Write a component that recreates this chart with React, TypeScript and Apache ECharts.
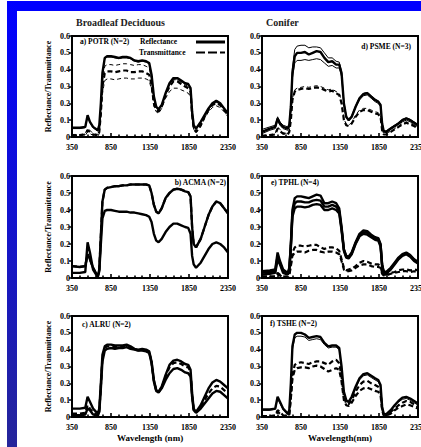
import React, { useEffect, useRef } from "react";
import * as echarts from "echarts";

// Wavelength grid (nm)
const WL = [350,450,520,550,580,620,680,700,720,740,770,800,850,900,950,1000,1050,1100,1150,1200,1250,1300,1340,1370,1400,1430,1460,1500,1550,1600,1650,1700,1750,1800,1840,1870,1890,1910,1940,2000,2050,2100,2150,2200,2250,2300,2350];

const xTicks = [350, 850, 1350, 1850, 2350];
const yTicks = [0, 0.1, 0.2, 0.3, 0.4, 0.5, 0.6];

// a) POTR
const potrRefl = [.055,.055,.06,.13,.09,.06,.04,.07,.2,.38,.47,.48,.48,.475,.47,.475,.475,.47,.455,.45,.455,.45,.44,.37,.24,.18,.165,.19,.26,.32,.35,.35,.335,.32,.315,.29,.15,.07,.05,.09,.13,.17,.2,.215,.2,.17,.14];
const potrRefl2 = [.05,.05,.055,.12,.085,.055,.035,.065,.19,.37,.465,.475,.475,.47,.465,.47,.47,.465,.45,.445,.45,.445,.435,.36,.23,.175,.16,.185,.255,.315,.345,.345,.33,.315,.31,.285,.145,.065,.045,.085,.125,.165,.195,.21,.195,.165,.135];
const potrTrans = [.01,.01,.015,.04,.03,.015,.01,.03,.14,.3,.38,.39,.39,.385,.39,.395,.395,.385,.385,.39,.39,.38,.37,.31,.2,.16,.15,.18,.25,.3,.33,.33,.315,.3,.29,.27,.13,.05,.03,.07,.12,.16,.19,.2,.19,.16,.13];
const potrTransHi = [.015,.015,.02,.05,.04,.02,.015,.04,.16,.33,.42,.43,.43,.425,.43,.435,.435,.43,.425,.43,.43,.42,.41,.34,.21,.165,.155,.185,.26,.31,.34,.34,.325,.31,.3,.28,.14,.055,.035,.08,.125,.165,.195,.205,.195,.165,.135];
const potrTransLo = [.005,.005,.01,.03,.02,.01,.005,.02,.12,.26,.335,.345,.345,.34,.345,.35,.35,.345,.345,.35,.35,.345,.335,.28,.18,.15,.14,.17,.23,.27,.29,.29,.28,.27,.26,.24,.12,.045,.025,.06,.11,.15,.175,.185,.175,.15,.12];

// b) ACMA
const acmaUpper = [.07,.065,.07,.14,.11,.06,.01,.05,.25,.45,.52,.53,.535,.54,.54,.545,.545,.55,.55,.55,.55,.55,.545,.5,.43,.39,.38,.41,.47,.5,.52,.525,.52,.51,.505,.48,.3,.2,.18,.23,.3,.37,.42,.45,.44,.41,.38];
const acmaLower = [.03,.03,.035,.21,.15,.05,.005,.04,.2,.35,.395,.4,.4,.395,.39,.39,.39,.385,.385,.38,.375,.37,.36,.33,.26,.22,.21,.23,.27,.3,.32,.32,.31,.3,.295,.26,.13,.08,.06,.09,.13,.17,.2,.21,.2,.18,.15];

// c) ALRU
const alruUpper = [.05,.05,.055,.12,.09,.05,.02,.05,.2,.37,.42,.43,.43,.425,.425,.425,.43,.42,.405,.4,.405,.4,.39,.33,.22,.16,.15,.18,.25,.31,.335,.34,.33,.315,.31,.28,.14,.05,.03,.07,.12,.17,.205,.22,.21,.19,.17];
const alruMid = [.02,.02,.025,.07,.05,.025,.01,.035,.18,.35,.41,.42,.42,.415,.42,.42,.425,.415,.4,.395,.4,.395,.385,.325,.215,.155,.148,.175,.24,.295,.32,.325,.315,.3,.295,.27,.13,.045,.028,.06,.1,.14,.17,.185,.18,.16,.14];
const alruLower = [.01,.01,.015,.05,.04,.015,.005,.03,.17,.33,.395,.405,.41,.405,.41,.41,.415,.405,.4,.395,.395,.39,.38,.32,.21,.155,.145,.17,.22,.26,.285,.29,.28,.265,.26,.24,.12,.04,.025,.05,.08,.11,.14,.155,.15,.13,.11];

// d) PSME
const psmeRefl = [.03,.05,.06,.11,.08,.06,.05,.07,.18,.38,.48,.5,.5,.505,.49,.5,.51,.505,.47,.445,.45,.43,.43,.38,.2,.12,.1,.12,.18,.23,.255,.26,.24,.22,.21,.19,.08,.035,.03,.05,.065,.08,.1,.11,.1,.085,.07];
const psmeReflHi = [.045,.06,.07,.12,.09,.07,.06,.08,.2,.41,.52,.54,.545,.545,.53,.535,.535,.53,.5,.47,.47,.45,.445,.39,.21,.125,.105,.125,.185,.235,.26,.265,.245,.225,.215,.195,.085,.04,.035,.055,.07,.085,.105,.115,.105,.09,.075];
const psmeReflLo = [.02,.04,.05,.1,.07,.05,.04,.06,.16,.35,.44,.455,.455,.46,.455,.46,.465,.46,.44,.42,.425,.41,.41,.36,.19,.115,.095,.115,.175,.22,.245,.25,.23,.21,.2,.18,.075,.03,.025,.045,.06,.075,.09,.1,.09,.075,.06];
const psmeTrans = [.005,.01,.015,.05,.035,.02,.015,.03,.1,.22,.27,.28,.285,.29,.285,.29,.295,.29,.28,.27,.275,.26,.25,.2,.1,.07,.065,.08,.12,.15,.16,.16,.15,.14,.135,.12,.04,.015,.015,.03,.045,.06,.075,.085,.075,.065,.05];
const psmeTransHi = [.01,.015,.02,.06,.045,.025,.02,.035,.11,.23,.28,.29,.295,.3,.295,.3,.305,.3,.29,.28,.285,.27,.26,.21,.11,.075,.07,.085,.13,.16,.17,.17,.16,.15,.145,.13,.045,.02,.02,.035,.05,.065,.08,.09,.08,.07,.055];

// e) TPHL
const tphlRefl1 = [.04,.045,.05,.15,.1,.05,.03,.06,.2,.4,.47,.48,.48,.475,.47,.48,.49,.485,.44,.44,.45,.44,.41,.3,.17,.13,.125,.15,.21,.26,.28,.275,.255,.24,.235,.2,.08,.04,.035,.06,.09,.12,.14,.15,.135,.11,.095];
const tphlRefl2 = [.03,.035,.04,.13,.09,.04,.025,.05,.19,.38,.44,.45,.45,.445,.445,.455,.46,.455,.42,.42,.43,.42,.395,.29,.165,.125,.12,.145,.205,.25,.27,.265,.25,.235,.23,.195,.075,.035,.03,.055,.085,.115,.135,.145,.13,.105,.09];
const tphlRefl3 = [.02,.025,.03,.11,.08,.03,.02,.04,.18,.36,.41,.42,.42,.415,.42,.43,.435,.43,.4,.4,.41,.4,.38,.28,.16,.12,.115,.14,.2,.245,.26,.255,.24,.225,.22,.185,.07,.03,.025,.05,.08,.11,.13,.14,.125,.1,.085];
const tphlTrans1 = [.01,.01,.01,.03,.02,.01,.005,.02,.08,.15,.18,.19,.19,.185,.19,.195,.195,.18,.17,.18,.18,.175,.16,.11,.06,.045,.05,.055,.07,.09,.1,.095,.085,.08,.08,.07,.03,.02,.02,.03,.035,.045,.05,.05,.045,.05,.045];
const tphlTrans2 = [.005,.005,.005,.02,.015,.005,.003,.015,.07,.13,.15,.155,.155,.15,.16,.165,.165,.155,.15,.155,.155,.15,.14,.1,.05,.04,.04,.045,.06,.075,.08,.08,.07,.065,.065,.06,.025,.015,.015,.025,.03,.035,.04,.04,.035,.04,.035];

// f) TSHE
const tsheRefl1 = [.045,.045,.05,.12,.09,.05,.02,.04,.2,.42,.49,.5,.5,.49,.47,.475,.48,.475,.44,.42,.425,.425,.41,.3,.15,.1,.09,.12,.18,.23,.255,.26,.245,.23,.22,.19,.06,.02,.015,.04,.07,.095,.115,.12,.11,.095,.08];
const tsheRefl2 = [.04,.04,.045,.11,.08,.045,.015,.035,.19,.4,.47,.48,.48,.475,.455,.46,.465,.46,.43,.41,.415,.415,.4,.29,.14,.095,.085,.115,.17,.22,.245,.25,.235,.22,.21,.18,.055,.018,.012,.035,.065,.09,.105,.11,.1,.085,.07];
const tsheTrans1 = [.005,.005,.01,.04,.03,.01,.005,.02,.12,.25,.31,.32,.325,.32,.315,.325,.33,.33,.32,.31,.33,.34,.32,.24,.12,.08,.075,.1,.15,.19,.21,.215,.2,.19,.18,.16,.05,.015,.01,.03,.05,.07,.085,.095,.09,.075,.06];
const tsheTrans2 = [.003,.003,.005,.03,.02,.005,.003,.015,.11,.23,.28,.29,.295,.295,.29,.3,.305,.3,.285,.27,.28,.29,.28,.21,.1,.07,.065,.085,.125,.155,.17,.175,.165,.155,.15,.13,.04,.01,.008,.02,.04,.055,.065,.075,.07,.06,.05];

const FONT = "Liberation Serif";

const THICK = { width: 2.4, type: "solid" as const };
const THIN = { width: 1, type: "solid" as const };
const DASH = { width: 2.2, type: [5, 3] as number[] };
const DASHTHIN = { width: 1, type: [4, 3] as number[] };

const panels = [
  { grid: 0, lines: [[potrTransHi, DASHTHIN], [potrTransLo, DASHTHIN], [potrTrans, DASH], [potrRefl2, THIN], [potrRefl, THICK]] },
  { grid: 1, lines: [[psmeTransHi, DASHTHIN], [psmeTrans, DASH], [psmeReflHi, THIN], [psmeReflLo, THIN], [psmeRefl, THICK]] },
  { grid: 2, lines: [[acmaUpper, DASH], [acmaUpper, THICK], [acmaLower, THICK]] },
  { grid: 3, lines: [[tphlTrans1, DASH], [tphlTrans2, DASH], [tphlRefl1, THICK], [tphlRefl2, THICK], [tphlRefl3, THICK]] },
  { grid: 4, lines: [[alruMid, DASH], [alruLower, THICK], [alruUpper, THICK]] },
  { grid: 5, lines: [[tsheTrans1, DASH], [tsheTrans2, DASH], [tsheRefl2, THIN], [tsheRefl1, THICK]] },
];

const grids = [
  { left: 72, top: 36, width: 156, height: 101 },
  { left: 262, top: 36, width: 156, height: 101 },
  { left: 72, top: 176, width: 156, height: 102 },
  { left: 262, top: 176, width: 156, height: 102 },
  { left: 72, top: 316, width: 156, height: 101 },
  { left: 262, top: 316, width: 156, height: 101 },
];

const panelLabels = [
  { text: "a) POTR (N=2)", x: 80, y: 41, align: "left" },
  { text: "d) PSME (N=3)", x: 411, y: 46, align: "right" },
  { text: "b) ACMA (N=2)", x: 226, y: 182, align: "right" },
  { text: "e) TPHL (N=4)", x: 271, y: 182, align: "left" },
  { text: "c) ALRU (N=2)", x: 82, y: 324, align: "left" },
  { text: "f) TSHE (N=2)", x: 270, y: 323, align: "left" },
];

export default function App() {
  const ref = useRef<HTMLDivElement>(null);
  useEffect(() => {
    if (!ref.current) return;
    const chart = echarts.init(ref.current, null, { renderer: "svg" });
    const textBase = { fontFamily: FONT, fontWeight: "bold", color: "#000" };
    const xAxis = grids.map((_, i) => ({
      type: "value",
      gridIndex: i,
      min: xTicks[0],
      max: xTicks[xTicks.length - 1],
      interval: xTicks[1] - xTicks[0],
      axisLine: { show: true, lineStyle: { color: "#000", width: 2 } },
      axisTick: { show: true, inside: true, length: 4, lineStyle: { color: "#000", width: 1.6 } },
      minorTick: { show: true, splitNumber: 5, length: 2.5, lineStyle: { color: "#000", width: 1.6 } },
      splitLine: { show: false },
      axisLabel: { ...textBase, fontSize: 8, margin: 6, formatter: (v: number) => String(v) },
      name: i === 4 ? "Wavelength (nm)" : i === 5 ? "Wavelength(nm)" : "",
      nameLocation: "middle",
      nameGap: 16,
      nameMoveOverlap: false,
      nameTextStyle: { ...textBase, fontSize: 9 },
    }));
    const yAxis = grids.map((_, i) => ({
      type: "value",
      gridIndex: i,
      min: yTicks[0],
      max: yTicks[yTicks.length - 1],
      interval: 0.1,
      axisLine: { show: true, lineStyle: { color: "#000", width: 2 } },
      axisTick: { show: true, inside: false, length: 3, lineStyle: { color: "#000", width: 1.5 } },
      splitLine: { show: false },
      axisLabel: {
        ...textBase,
        fontSize: 8,
        margin: 2,
        formatter: (v: number) => (v === 0 ? "0" : v.toFixed(1)),
      },
      name: i % 2 === 0 ? "Reflectance/Transmittance" : "",
      nameLocation: "middle",
      nameGap: 20,
      nameMoveOverlap: false,
      nameTextStyle: { ...textBase, fontSize: 8 },
    }));
    const series: any[] = [];
    panels.forEach((p) => {
      p.lines.forEach(([arr, st]: any) => {
        series.push({
          type: "line",
          xAxisIndex: p.grid,
          yAxisIndex: p.grid,
          data: WL.map((w, k) => [w, arr[k]]),
          showSymbol: false,
          symbol: "none",
          clip: true,
          lineStyle: { color: "#000", width: st.width, type: st.type, cap: "butt" },
          silent: true,
        });
      });
    });
    const f = (s: number) => `bold ${s}px "${FONT}"`;
    const graphic: any[] = [
      { type: "rect", shape: { x: 7, y: 1, width: 414, height: 10 }, style: { fill: "#0000ff" } },
      {
        type: "rect",
        shape: { x: 7, y: 1, width: 10, height: 446 },
        style: {
          fill: new echarts.graphic.LinearGradient(0, 0, 0, 1, [
            { offset: 0, color: "#0000ff" },
            { offset: 1, color: "#25259a" },
          ]),
        },
      },
      { type: "text", x: 76, y: 22, style: { text: "Broadleaf Deciduous", font: f(10), fill: "#222", verticalAlign: "middle" } },
      { type: "text", x: 266, y: 22, style: { text: "Conifer", font: f(10), fill: "#222", verticalAlign: "middle" } },
      ...panelLabels.map((l) => ({
        type: "text",
        x: l.x,
        y: l.y,
        style: { text: l.text, font: f(7.5), fill: "#000", align: l.align, verticalAlign: "middle" },
      })),
      { type: "text", x: 140, y: 41, style: { text: "Reflectance", font: f(7.5), fill: "#000", verticalAlign: "middle" } },
      { type: "text", x: 139, y: 52, style: { text: "Transmittance", font: f(7.5), fill: "#000", verticalAlign: "middle" } },
      { type: "line", shape: { x1: 196, y1: 42, x2: 225, y2: 42 }, style: { stroke: "#000", lineWidth: 3 } },
      { type: "line", shape: { x1: 196, y1: 52.5, x2: 225, y2: 52.5 }, style: { stroke: "#000", lineWidth: 2.2, lineDash: [9, 3] } },
    ];
    chart.setOption({
      animation: false,
      backgroundColor: "#fff",
      grid: grids.map((g) => ({
        ...g,
        show: true,
        borderColor: "#000",
        borderWidth: 2,
        backgroundColor: "transparent",
        containLabel: false,
        outerBoundsMode: "none",
      })),
      xAxis,
      yAxis,
      series,
      graphic,
    });
    return () => chart.dispose();
  }, []);
  return (
    <div
      ref={ref}
      style={{ position: "fixed", left: 0, top: 0, width: 421, height: 447, background: "#fff" }}
    />
  );
}
